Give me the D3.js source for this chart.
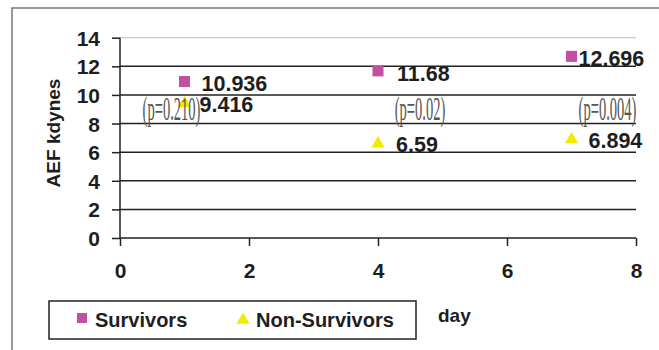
<!DOCTYPE html>
<html lang="en">
<head>
  <meta charset="UTF-8">
  <title>AEF kdynes by day</title>
  <style>
    body { margin: 0; background: #fff; }
    svg text { font-family: Arial, "Liberation Sans", sans-serif; font-weight: bold; fill: #1e1e1e; }
    .grid line { stroke: #222; stroke-width: 1.5; }
    .axis path, .axis line { stroke: #222; stroke-width: 1.5; }
    .pval { font-family: "Liberation Serif", "Times New Roman", serif; font-weight: normal; fill: #555; }
  </style>
</head>
<body>
  <div class="layout"></div>
  <script src="https://d3js.org/d3.v7.min.js"></script>
  <script>
    // data
    const days = [1, 4, 7];
    const survivors = [10.936, 11.68, 12.696];
    const nonSurvivors = [9.416, 6.59, 6.894];
    const pLabels = ['(p=0.210)', '(p=0.02)', '(p=0.004)'];
    const xTicks = [0, 2, 4, 6, 8];
    const yTicks = [0, 2, 4, 6, 8, 10, 12, 14];

    // label nudges (px), the original puts them a bit unevenly
    const survNudge = [17, 19, 7];
    const nonNudge = [15, 18, 17];
    const pNudge = [-13, 42, 36];

    const SVGWIDTH = 659;
    const SVGHEIGHT = 350;
    const svg = d3.select('.layout').append('svg')
      .attr('width', SVGWIDTH)
      .attr('height', SVGHEIGHT);

    const scaleX = d3.scaleLinear().domain([0, 8]).range([120, 636]);
    const scaleY = d3.scaleLinear().domain([0, 14]).range([238, 37.7]);

    // outer frame (top and left only visible)
    svg.append('path')
      .attr('d', `M12,${SVGHEIGHT} L12,8 L${SVGWIDTH},8`)
      .attr('fill', 'none')
      .attr('stroke', '#777')
      .attr('stroke-width', 1.5);

    // gridlines
    svg.append('g').attr('class', 'grid')
      .selectAll('line')
      .data(yTicks.filter(d => d > 0))
      .enter().append('line')
      .attr('x1', scaleX(0)).attr('x2', scaleX(8))
      .attr('y1', d => scaleY(d)).attr('y2', d => scaleY(d))
      .style('stroke', d => d === 14 ? '#bbb' : null)
      .style('stroke-width', d => d === 14 ? 1 : null);

    // axes
    const yAxis = d3.axisLeft(scaleY).tickValues(yTicks).tickSize(8).tickSizeOuter(0).tickPadding(12);
    const xAxis = d3.axisBottom(scaleX).tickValues(xTicks).tickSize(8).tickSizeOuter(0).tickPadding(17);

    const gy = svg.append('g').attr('class', 'axis')
      .attr('transform', `translate(${scaleX(0)},0)`)
      .call(yAxis);
    gy.select('.domain').attr('d', `M0,${scaleY(0)}V${scaleY(14)}`);
    gy.selectAll('.tick line').attr('x2', -8);
    gy.selectAll('text').style('font-size', '21px').attr('dy', '0.36em').attr('x', -20);

    const gx = svg.append('g').attr('class', 'axis')
      .attr('transform', `translate(0,${scaleY(0)})`)
      .call(xAxis);
    gx.select('.domain').attr('d', `M${scaleX(0)},0H${scaleX(8)}`);
    gx.selectAll('text').style('font-size', '21px').attr('dy', '0.71em');

    // axis titles
    svg.append('text')
      .attr('transform', `translate(60,133) rotate(-90)`)
      .attr('text-anchor', 'middle')
      .style('font-size', '19px')
      .text('AEF kdynes');

    svg.append('text')
      .attr('x', 438).attr('y', 322)
      .style('font-size', '19px')
      .text('day');

    const tri = d3.symbol().type(d3.symbolTriangle).size(75);

    // survivors
    svg.append('g').selectAll('rect')
      .data(survivors)
      .enter().append('rect')
      .attr('x', (d, i) => scaleX(days[i]) - 5.5)
      .attr('y', d => scaleY(d) - 5.5)
      .attr('width', 11).attr('height', 11)
      .attr('fill', '#c050a0');

    svg.append('g').selectAll('text')
      .data(survivors)
      .enter().append('text')
      .attr('x', (d, i) => scaleX(days[i]) + survNudge[i])
      .attr('y', d => scaleY(d) + 2)
      .attr('dy', '0.36em')
      .style('font-size', '21.5px')
      .text(d => d);

    // non-survivors
    svg.append('g').selectAll('path')
      .data(nonSurvivors)
      .enter().append('path')
      .attr('d', tri)
      .attr('transform', (d, i) => `translate(${scaleX(days[i])},${scaleY(d)})`)
      .attr('fill', '#f2ea00');

    svg.append('g').selectAll('text')
      .data(nonSurvivors)
      .enter().append('text')
      .attr('x', (d, i) => scaleX(days[i]) + nonNudge[i])
      .attr('y', d => scaleY(d) + 1)
      .attr('dy', '0.36em')
      .style('font-size', '21.5px')
      .text(d => d);

    // p values, tall and condensed
    svg.append('g').selectAll('text')
      .data(pLabels)
      .enter().append('text')
      .attr('class', 'pval')
      .attr('transform', (d, i) => `translate(${scaleX(days[i]) + pNudge[i]},120) scale(0.44,1)`)
      .attr('text-anchor', 'middle')
      .style('font-size', '33px')
      .text(d => d);

    // legend
    const legend = svg.append('g');
    legend.append('rect')
      .attr('x', 49).attr('y', 301)
      .attr('width', 367).attr('height', 38)
      .attr('fill', '#fff')
      .attr('stroke', '#222')
      .attr('stroke-width', 1.5);
    legend.append('rect')
      .attr('x', 77).attr('y', 313)
      .attr('width', 10).attr('height', 10)
      .attr('fill', '#c050a0');
    legend.append('text')
      .attr('x', 95).attr('y', 327)
      .style('font-size', '20px')
      .text('Survivors');
    legend.append('path')
      .attr('d', tri)
      .attr('transform', 'translate(243,320)')
      .attr('fill', '#f2ea00');
    legend.append('text')
      .attr('x', 256).attr('y', 327)
      .style('font-size', '20px')
      .text('Non-Survivors');
  </script>
</body>
</html>
